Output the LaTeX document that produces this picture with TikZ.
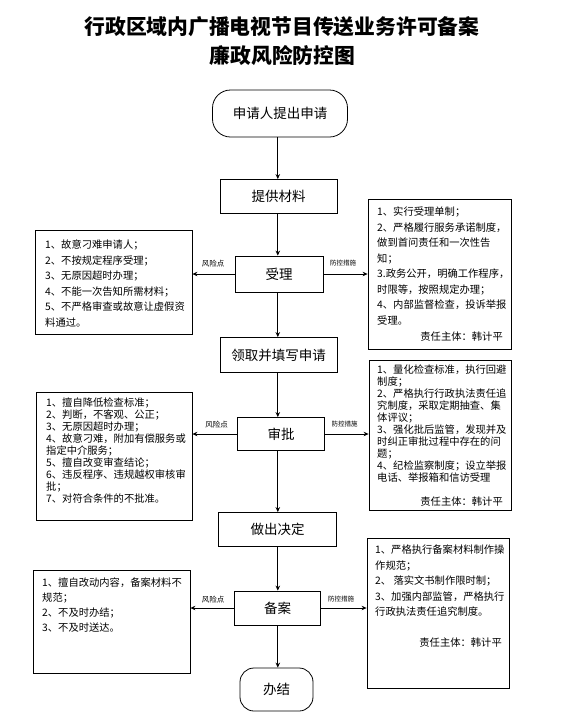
\documentclass[tikz,border=0pt]{standalone}
\usepackage{fontspec}
\setmainfont{Noto Sans CJK SC}
\usetikzlibrary{arrows.meta,calc}
\begin{document}
\begin{tikzpicture}[x=1pt,y=-1pt,
  flow/.style={draw,line width=0.8pt,font=\fontsize{13.5}{15}\selectfont,inner sep=0pt},
  box/.style={draw,line width=0.8pt,inner sep=0pt},
  txt/.style={anchor=north west,align=left,inner sep=0pt,font=\fontsize{10.3}{15.5}\selectfont},
  txtb/.style={anchor=north west,align=left,inner sep=0pt,font=\fontsize{10.3}{12}\selectfont},
  txtc/.style={anchor=north west,align=left,inner sep=0pt,font=\fontsize{10.3}{15}\selectfont},
  resp/.style={anchor=east,inner sep=0pt,font=\fontsize{10.3}{12}\selectfont},
  risk/.style={inner sep=0pt,font=\fontsize{7.5}{8}\selectfont},
  ctrl/.style={inner sep=0pt,font=\fontsize{6.5}{7}\selectfont},
  arr/.style={line width=0.8pt,-{Stealth[length=5pt,width=4.5pt]}}
]
\useasboundingbox (0,0) rectangle (572,716);

% title
\node[inner sep=0pt,font=\fontsize{20.8}{24}\selectfont\bfseries] (t1) at (282,27) {行政区域内广播电视节目传送业务许可备案};
\node[inner sep=0pt,font=\fontsize{20.8}{24}\selectfont\bfseries] (t2) at (282.5,56) {廉政风险防控图};

% flow nodes
\node[flow,rounded corners=18pt,minimum width=135pt,minimum height=47pt] (start) at (280,113.5) {申请人提出申请};
\node[flow,minimum width=117pt,minimum height=34pt] (tigong) at (278.5,196.5) {提供材料};
\node[flow,minimum width=88pt,minimum height=36pt] (shouli) at (279,274) {受理};
\node[flow,minimum width=117pt,minimum height=35pt] (lingqu) at (278.5,355) {领取并填写申请};
\node[flow,minimum width=87pt,minimum height=33pt] (shenpi) at (281,434) {审批};
\node[flow,minimum width=118pt,minimum height=34pt] (zuochu) at (277.5,529.5) {做出决定};
\node[flow,minimum width=86pt,minimum height=34pt] (beian) at (277.5,608) {备案};
\node[flow,rounded corners=14pt,minimum width=73pt,minimum height=43pt] (banjie) at (276.5,689.5) {办结};

\coordinate (spine) at (277.8,0);
\draw[arr] (spine |- start.south) -- (spine |- tigong.north);
\draw[arr] (spine |- tigong.south) -- (spine |- shouli.north);
\draw[arr] (spine |- shouli.south) -- (spine |- lingqu.north);
\draw[arr] (spine |- lingqu.south) -- (spine |- shenpi.north);
\draw[arr] (spine |- shenpi.south) -- (spine |- zuochu.north);
\draw[arr] (spine |- zuochu.south) -- (spine |- beian.north);
\draw[arr] (spine |- beian.south) -- (spine |- banjie.north);

% side boxes
\node[box,minimum width=157pt,minimum height=104pt] (L1) at (113.5,282) {};
\node[box,minimum width=143pt,minimum height=150pt] (R1) at (439.5,274) {};
\node[box,minimum width=156pt,minimum height=128pt] (L2) at (114,456) {};
\node[box,minimum width=142pt,minimum height=150pt] (R2) at (440,435) {};
\node[box,minimum width=157pt,minimum height=103pt] (L3) at (111.5,621.5) {};
\node[box,minimum width=142pt,minimum height=150pt] (R3) at (438,613) {};

% side arrows
\draw[arr] (shouli.west) -- (shouli.west -| L1.east);
\draw[arr] (shouli.east) -- (shouli.east -| R1.west);
\draw[arr] (shenpi.west) -- (shenpi.west -| L2.east);
\draw[arr] (shenpi.east) -- (shenpi.east -| R2.west);
\draw[arr] (beian.west) -- (beian.west -| L3.east);
\draw[arr] (beian.east) -- (beian.east -| R3.west);

% arrow labels
\node[risk] (k1) at (213,263.5) {风险点};
\node[ctrl] (c1) at (343,263.5) {防控措施};
\node[risk] (k2) at (216.5,425) {风险点};
\node[ctrl] (c2) at (344.5,424.5) {防控措施};
\node[risk] (k3) at (213,599.5) {风险点};
\node[ctrl] (c3) at (341,599.5) {防控措施};

% texts
\node[txt] (L1t) at (45,240) {1、故意刁难申请人；\\2、不按规定程序受理；\\3、无原因超时办理；\\4、不能一次告知所需材料；\\5、不严格审查或故意让虚假资\\料通过。};
\node[txt] (R1t) at (377,207) {1、实行受理单制；\\2、严格履行服务承诺制度，\\做到首问责任和一次性告\\知；\\3.政务公开，明确工作程序，\\时限等，按照规定办理；\\4、内部监督检查，投诉举报\\受理。};
\node[resp] (R1r) at (503,337) {责任主体：韩计平};

\node[txtb] (L2t) at (46,398) {1、擅自降低检查标准；\\2、判断，不客观、公正；\\3、无原因超时办理；\\4、故意刁难，附加有偿服务或\\指定中介服务；\\5、擅自改变审查结论；\\6、违反程序、违规越权审核审\\批；\\7、对符合条件的不批准。};
\node[txtb] (R2t) at (377,365) {1、量化检查标准，执行回避\\制度；\\2、严格执行行政执法责任追\\究制度，采取定期抽查、集\\体评议；\\3、强化批后监管，发现并及\\时纠正审批过程中存在的问\\题；\\4、纪检监察制度；设立举报\\电话、举报箱和信访受理};
\node[resp] (R2r) at (503,502) {责任主体：韩计平};

\node[txtc] (L3t) at (42,578) {1、擅自改动内容，备案材料不\\规范；\\2、不及时办结；\\3、不及时送达。};
\node[txt] (R3t) at (375,545) {1、严格执行备案材料制作操\\作规范；\\2、 落实文书制作限时制；\\3、加强内部监管，严格执行\\行政执法责任追究制度。};
\node[resp] (R3r) at (502,643) {责任主体：韩计平};
\end{tikzpicture}
\end{document}
